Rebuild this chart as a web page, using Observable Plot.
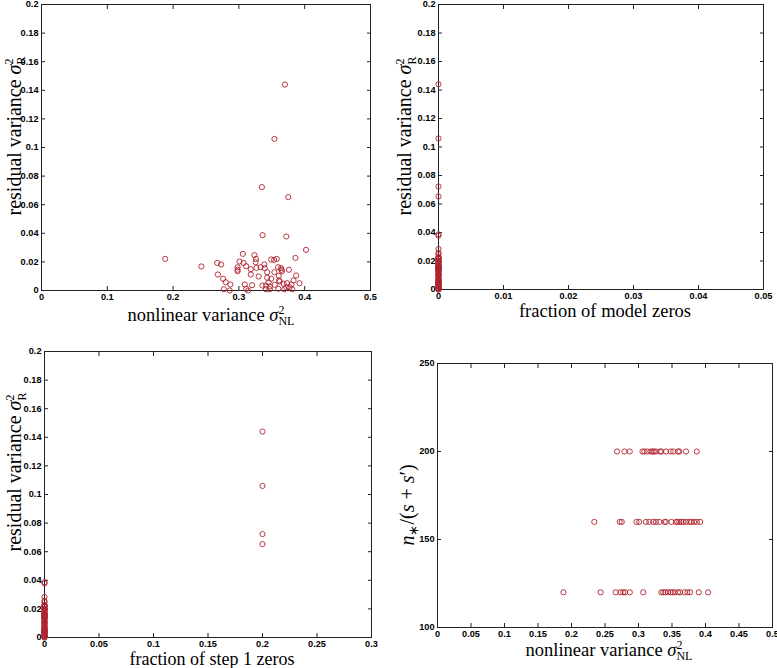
<!DOCTYPE html>
<html><head><meta charset="utf-8">
<script src="https://cdn.jsdelivr.net/npm/d3@7"></script>
<script src="https://cdn.jsdelivr.net/npm/@observablehq/plot@0.6"></script>
<style>
body{margin:0;background:#fff;}
#wrap{position:relative;width:777px;height:668px;background:#fff;overflow:hidden;}
#wrap svg{position:absolute;}
</style></head><body><div id="wrap"></div>
<script>
// nonlinear variance (x) and residual variance (y) per model
const nonlinVar = [0.370, 0.354, 0.335, 0.375, 0.336, 0.372, 0.402, 0.188, 0.243, 0.267, 0.273, 0.268, 0.276, 0.280, 0.287, 0.277, 0.286, 0.298, 0.298, 0.298, 0.301, 0.306, 0.307, 0.311, 0.309, 0.311, 0.314, 0.318, 0.318, 0.320, 0.3235, 0.326, 0.3255, 0.3266, 0.330, 0.333, 0.3357, 0.3387, 0.3392, 0.341, 0.343, 0.343, 0.341, 0.345, 0.347, 0.347, 0.349, 0.349, 0.3535, 0.354, 0.3545, 0.3575, 0.3595, 0.3605, 0.361, 0.360, 0.362, 0.364, 0.3656, 0.3646, 0.368, 0.369, 0.372, 0.373, 0.376, 0.377, 0.380, 0.381, 0.383, 0.386, 0.387, 0.392];
const residVar = [0.144, 0.106, 0.0723, 0.0653, 0.0387, 0.0378, 0.0284, 0.0221, 0.0168, 0.0193, 0.0182, 0.0112, 0.0082, 0.0058, 0.0042, 0.0009, 0.0, 0.0163, 0.0145, 0.0135, 0.0203, 0.0256, 0.0193, 0.017, 0.0042, 0.0012, 0.0, 0.0149, 0.0112, 0.0037, 0.0247, 0.0221, 0.0198, 0.0158, 0.0098, 0.0163, 0.0035, 0.0182, 0.0156, 0.0035, 0.0128, 0.0089, 0.0009, 0.0056, 0.0028, 0.0009, 0.0217, 0.0082, 0.0214, 0.0128, 0.004, 0.0221, 0.0163, 0.0103, 0.007, 0.0012, 0.0063, 0.0156, 0.0135, 0.0145, 0.0047, 0.0009, 0.0023, 0.0051, 0.0145, 0.0023, 0.0042, 0.0009, 0.007, 0.0228, 0.0105, 0.0051];
const modelZeros = [0,0,0,0,0,0,0,0,0,0,0,0,0,0,0,0,0,0,0,0,0,0,0,0,0,0,0,0,0,0,0,0,0,0,0,0,0,0,0,0,0,0,0,0,0,0,0,0,0,0,0,0,0,0,0,0,0,0,0,0,0,0,0,0,0,0,0,0,0,0,0,0];
const stepZeros = [0.2,0.2,0.2,0.2,0,0,0,0,0,0,0,0,0,0,0,0,0,0,0,0,0,0,0,0,0,0,0,0,0,0,0,0,0,0,0,0,0,0,0,0,0,0,0,0,0,0,0,0,0,0,0,0,0,0,0,0,0,0,0,0,0,0,0,0,0,0,0,0,0,0,0,0];

// bottom-right panel: n*/(s+s') levels and nonlinear variance at each level
const nRatioLevels = [200, 160, 120];
const nonlinAt200 = [0.268, 0.279, 0.287, 0.306, 0.309, 0.313, 0.318, 0.321, 0.323, 0.326, 0.332, 0.334, 0.341, 0.348, 0.352, 0.359, 0.361, 0.371, 0.387];
const nonlinAt160 = [0.234, 0.272, 0.275, 0.297, 0.301, 0.311, 0.316, 0.322, 0.326, 0.331, 0.339, 0.341, 0.349, 0.356, 0.358, 0.361, 0.364, 0.367, 0.371, 0.376, 0.379, 0.383, 0.387, 0.392];
const nonlinAt120 = [0.188, 0.2435, 0.266, 0.273, 0.277, 0.280, 0.287, 0.307, 0.334, 0.337, 0.340, 0.344, 0.348, 0.351, 0.354, 0.359, 0.362, 0.369, 0.373, 0.377, 0.390, 0.404];

// tick values
const ticksNonlin = [0, 0.1, 0.2, 0.3, 0.4, 0.5];
const ticksNonlinFine = [0, 0.05, 0.1, 0.15, 0.2, 0.25, 0.3, 0.35, 0.4, 0.45, 0.5];
const ticksResid = [0, 0.02, 0.04, 0.06, 0.08, 0.1, 0.12, 0.14, 0.16, 0.18, 0.2];
const ticksModelZeros = [0, 0.01, 0.02, 0.03, 0.04, 0.05];
const ticksStepZeros = [0, 0.05, 0.1, 0.15, 0.2, 0.25, 0.3];
const ticksNRatio = [100, 150, 200, 250];

const rows = nonlinVar.map((v, i) => ({nl: v, res: residVar[i], mz: modelZeros[i], sz: stepZeros[i]}));
const byLevel = [nonlinAt200, nonlinAt160, nonlinAt120];
const rows4 = nRatioLevels.flatMap((n, k) => byLevel[k].map(x => ({nl: x, n})));

const wrap = document.getElementById("wrap");
const dotColor = "#b0222f";

function panel({left, top, width, height, m, xDomain, yDomain, xTicks, yTicks, data, x, y}) {
  const svg = Plot.plot({
    width, height,
    marginLeft: m[0], marginRight: m[1], marginTop: m[2], marginBottom: m[3],
    style: {fontFamily: "'Liberation Sans', Arial, sans-serif", fontSize: "9.2px", fontWeight: "bold", color: "#000", background: "transparent", overflow: "visible"},
    x: {domain: xDomain},
    y: {domain: yDomain},
    marks: [
      Plot.frame({stroke: "#222", strokeWidth: 1}),
      Plot.axisX(xTicks, {anchor: "bottom", tickSize: -4, fill: "none", stroke: "#222"}),
      Plot.axisX(xTicks, {anchor: "top", tickSize: -4, fill: "none", stroke: "#222"}),
      Plot.axisY(yTicks, {anchor: "left", tickSize: -4, fill: "none", stroke: "#222"}),
      Plot.axisY(yTicks, {anchor: "right", tickSize: -4, fill: "none", stroke: "#222"}),
      Plot.axisX(xTicks, {anchor: "bottom", tickSize: 0, tickPadding: 3, tickFormat: d => String(d), label: null, fill: "#000"}),
      Plot.axisY(yTicks, {anchor: "left", tickSize: 0, tickPadding: 3, tickFormat: d => String(d), label: null, fill: "#000"}),
      Plot.dot(data, {x, y, r: 2.6, stroke: dotColor, strokeWidth: 0.9, fill: "none"})
    ]
  });
  svg.style.left = left + "px";
  svg.style.top = top + "px";
  wrap.appendChild(svg);
  return svg;
}

function mathLabel(svg, {x, y, rotate = 0, size = 18.5, parts}) {
  const t = d3.select(svg).append("text")
    .attr("transform", `translate(${x},${y}) rotate(${rotate})`)
    .attr("text-anchor", "middle")
    .attr("fill", "#000")
    .style("font-family", "'Liberation Serif', 'Times New Roman', serif")
    .style("font-size", size + "px")
    .style("font-weight", "normal");
  for (const p of parts) {
    const s = t.append("tspan").text(p.t);
    if (p.i) s.style("font-style", "italic");
    if (p.s) s.style("font-size", p.s + "px");
    if (p.dx) s.attr("dx", p.dx);
    if (p.dy) s.attr("dy", p.dy);
  }
}

const residLabel = [{t: "residual variance "}, {t: "σ", i: true}, {t: "2", s: 12, dy: -7.5}, {t: "R", s: 12, dx: -6, dy: 12}];
const nonlinLabel = [{t: "nonlinear variance "}, {t: "σ", i: true}, {t: "2", s: 12, dy: -7}, {t: "NL", s: 12, dx: -6, dy: 11}];

const p1 = panel({left: 0, top: 0, width: 390, height: 330, m: [41, 20, 4, 40],
  xDomain: [0, 0.5], yDomain: [0, 0.2], xTicks: ticksNonlin, yTicks: ticksResid, data: rows, x: "nl", y: "res"});
mathLabel(p1, {x: 211, y: 321, parts: nonlinLabel});
mathLabel(p1, {x: 20.5, y: 136, rotate: -90, size: 20, parts: residLabel});

const p2 = panel({left: 390, top: 0, width: 387, height: 330, m: [48, 14, 4, 41],
  xDomain: [0, 0.05], yDomain: [0, 0.2], xTicks: ticksModelZeros, yTicks: ticksResid, data: rows, x: "mz", y: "res"});
mathLabel(p2, {x: 215, y: 317, parts: [{t: "fraction of model zeros"}]});
mathLabel(p2, {x: 21, y: 136, rotate: -90, size: 20, parts: residLabel});

const p3 = panel({left: 0, top: 330, width: 390, height: 338, m: [44, 19, 21, 31],
  xDomain: [0, 0.3], yDomain: [0, 0.2], xTicks: ticksStepZeros, yTicks: ticksResid, data: rows, x: "sz", y: "res"});
mathLabel(p3, {x: 212, y: 335, size: 18, parts: [{t: "fraction of step 1 zeros"}]});
mathLabel(p3, {x: 21, y: 142, rotate: -90, size: 20, parts: residLabel});

const p4 = panel({left: 390, top: 330, width: 387, height: 338, m: [47, 5, 33, 41],
  xDomain: [0, 0.5], yDomain: [100, 250], xTicks: ticksNonlinFine, yTicks: ticksNRatio, data: rows4, x: "nl", y: "n"});
mathLabel(p4, {x: 219, y: 326, parts: nonlinLabel});
mathLabel(p4, {x: 24, y: 175, rotate: -90, size: 20, parts: [
  {t: "n", i: true}, {t: "∗", s: 13, dy: 4}, {t: "/(", dy: -4}, {t: "s", i: true}, {t: " + "}, {t: "s", i: true}, {t: "′"}, {t: ")"}
]});
</script>
</body></html>
